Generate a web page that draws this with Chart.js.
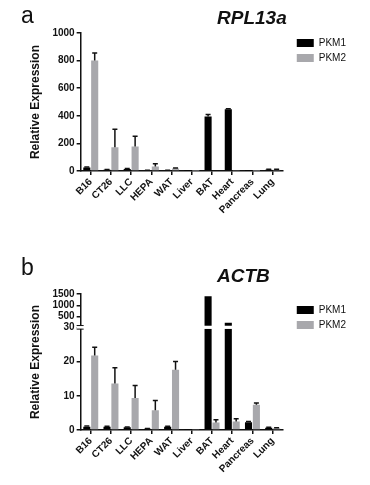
<!DOCTYPE html>
<html>
<head>
<meta charset="utf-8">
<script src="https://cdn.jsdelivr.net/npm/chart.js@4/dist/chart.umd.min.js"></script>
<style>
body { margin: 0; background: #fff; width: 370px; height: 485px; position: relative; overflow: hidden; font-family: "Liberation Sans", Arial, sans-serif; }
canvas { position: absolute; left: 0; }
.letter { position: absolute; font-size: 23px; color: #111; }
.gene { position: absolute; font-size: 19px; font-weight: bold; font-style: italic; color: #111; }
</style>
</head>
<body>
<canvas id="chartA" width="370" height="235" style="top:0"></canvas>
<canvas id="chartB" width="370" height="245" style="top:240px"></canvas>
<div class="letter" style="left:21px; top:2px;">a</div>
<div class="gene" style="left:217px; top:7px;">RPL13a</div>
<div class="letter" style="left:21px; top:254px;">b</div>
<div class="gene" style="left:217px; top:265px;">ACTB</div>
<script>
// 조직 (x축)
const tissues = ['B16', 'CT26', 'LLC', 'HEPA', 'WAT', 'Liver', 'BAT', 'Heart', 'Pancreas', 'Lung'];

// a: RPL13a 기준 상대 발현량
const rplPkm1 = [25, 10, 15, 5, 5, 2, 395, 447, 2, 10];
const rplPkm1Err = [5, 2, 4, 1, 1, 0, 15, 5, 0, 3];
const rplPkm2 = [800, 172, 178, 33, 18, 3, 5, 7, 2, 10];
const rplPkm2Err = [55, 130, 75, 20, 4, 0, 0, 0, 0, 3];
const rplTicks = [0, 200, 400, 600, 800, 1000];

// b: ACTB 기준 상대 발현량 (30에서 축 절단)
const actbPkm1 = [1.0, 1.0, 0.8, 0.4, 1.0, 0.2, 1400, 230, 2.3, 0.7];
const actbPkm1Err = [0.2, 0.1, 0.1, 0.05, 0.1, 0, 0, 0, 0.2, 0.1];
const actbPkm2 = [21.8, 13.6, 9.4, 5.8, 17.6, 0.3, 2.2, 2.5, 7.4, 0.5];
const actbPkm2Err = [2.4, 4.6, 3.6, 2.8, 2.4, 0, 0.8, 0.8, 0.5, 0.2];
const actbTicks = [0, 10, 20, 30, 500, 1000, 1500];
const breakAt = 30;

const black = '#000000';
const gray = '#a8a8ac';
const ink = '#111111';

Chart.defaults.font.family = '"Liberation Sans", Arial, sans-serif';
Chart.defaults.color = ink;

// 절단된 선형 축: breakAt 아래는 lowShare 만큼의 높이, 위는 나머지
class BrokenLinearScale extends Chart.LinearScale {
    toDecimal(value) {
        const at = this.options.breakAt;
        const low = this.options.lowShare;
        if (value <= at) return (value - this.min) / (at - this.min) * low;
        return low + (value - at) / (this.max - at) * (1 - low);
    }
    getPixelForValue(value) {
        if (value === null || value === undefined) return NaN;
        return this.getPixelForDecimal(this.toDecimal(value));
    }
    getValueForPixel(pixel) {
        const d = this.getDecimalForPixel(pixel);
        const at = this.options.breakAt;
        const low = this.options.lowShare;
        if (d <= low) return this.min + d / low * (at - this.min);
        return at + (d - low) / (1 - low) * (this.max - at);
    }
}
BrokenLinearScale.id = 'brokenLinear';
BrokenLinearScale.defaults = Chart.LinearScale.defaults;
Chart.register(BrokenLinearScale);

// 에러바 (위쪽만)
const errorBars = {
    id: 'errorBars',
    afterDatasetsDraw(chart) {
        const ctx = chart.ctx;
        ctx.save();
        ctx.strokeStyle = ink;
        ctx.lineWidth = 1.5;
        chart.data.datasets.forEach((ds, i) => {
            if (!ds.errors) return;
            const meta = chart.getDatasetMeta(i);
            const yScale = chart.scales[meta.yAxisID];
            ds.data.forEach((v, j) => {
                const e = ds.errors[j];
                if (v == null || !e) return;
                const el = meta.data[j];
                const yTop = yScale.getPixelForValue(v + e);
                ctx.beginPath();
                ctx.moveTo(el.x, el.y);
                ctx.lineTo(el.x, yTop);
                ctx.moveTo(el.x - 2.5, yTop);
                ctx.lineTo(el.x + 2.5, yTop);
                ctx.stroke();
            });
        });
        ctx.restore();
    }
};

// 축 절단 표시 (흰 틈 + = 모양)
const axisBreak = {
    id: 'axisBreak',
    afterDatasetsDraw(chart) {
        const ctx = chart.ctx;
        const area = chart.chartArea;
        const y = chart.scales.y.getPixelForValue(breakAt);
        ctx.save();
        ctx.fillStyle = '#ffffff';
        ctx.fillRect(area.left - 4, y - 1.6, area.right - area.left + 4, 3.2);
        ctx.strokeStyle = ink;
        ctx.lineWidth = 1;
        ctx.beginPath();
        ctx.moveTo(area.left - 4, y - 1.8);
        ctx.lineTo(area.left + 3, y - 1.8);
        ctx.moveTo(area.left - 4, y + 1.8);
        ctx.lineTo(area.left + 3, y + 1.8);
        ctx.stroke();
        ctx.restore();
    }
};

const tickFont = { size: 10, weight: 'bold' };

function xScale() {
    return {
        offset: true,
        grid: { display: true, drawOnChartArea: false, offset: false, tickLength: 4, color: ink, lineWidth: 1.5 },
        border: { display: true, color: ink, width: 1.5 },
        ticks: { autoSkip: false, maxRotation: 45, minRotation: 45, padding: 1, font: tickFont, color: ink }
    };
}

function yScale(tickValues, extra) {
    return Object.assign({
        position: 'left',
        grid: { display: true, drawOnChartArea: false, tickLength: 4, color: ink, lineWidth: 1.5 },
        border: { display: true, color: ink, width: 1.5 },
        ticks: { autoSkip: false, padding: 2, font: tickFont, color: ink, callback: v => String(v) },
        afterBuildTicks: scale => { scale.ticks = tickValues.map(v => ({ value: v })); },
        title: {
            display: true,
            text: 'Relative Expression',
            font: { size: 12, weight: 'bold' },
            color: ink,
            padding: { top: 0, bottom: 8 }
        }
    }, extra);
}

// 범례 앞 빈 간격용 축 (보이지 않음)
const spacerScale = {
    axis: 'y',
    position: 'right',
    display: false,
    afterFit: scale => { scale.width = 9; }
};

function legendOpts(topGap) {
    return {
        display: true,
        position: 'right',
        align: 'start',
        title: { display: topGap > 0, text: '', padding: 0, font: { size: topGap, lineHeight: 1 } },
        labels: {
            boxWidth: 17,
            boxHeight: 8,
            padding: 5,
            color: ink,
            font: { size: 10 }
        }
    };
}

// a 패널
new Chart(document.getElementById('chartA'), {
    type: 'bar',
    data: {
        labels: tissues,
        datasets: [
            { label: 'PKM1', data: rplPkm1, errors: rplPkm1Err, backgroundColor: black },
            { label: 'PKM2', data: rplPkm2, errors: rplPkm2Err, backgroundColor: gray }
        ]
    },
    options: {
        responsive: false,
        animation: false,
        categoryPercentage: 0.78,
        barPercentage: 0.9,
        layout: { padding: { top: 33, left: 28, right: 14, bottom: 18 } },
        plugins: {
            legend: legendOpts(0),
            tooltip: { enabled: false }
        },
        scales: {
            x: xScale(),
            y: yScale(rplTicks, { min: 0, max: 1000 }),
            gap: spacerScale
        }
    },
    plugins: [errorBars]
});

// b 패널 (y축 30에서 절단: 아래 0-30, 위 30-1500)
new Chart(document.getElementById('chartB'), {
    type: 'bar',
    data: {
        labels: tissues,
        datasets: [
            { label: 'PKM1', data: actbPkm1, errors: actbPkm1Err, backgroundColor: black },
            { label: 'PKM2', data: actbPkm2, errors: actbPkm2Err, backgroundColor: gray }
        ]
    },
    options: {
        responsive: false,
        animation: false,
        categoryPercentage: 0.78,
        barPercentage: 0.9,
        layout: { padding: { top: 54, left: 28, right: 14, bottom: 9 } },
        plugins: {
            legend: legendOpts(6),
            tooltip: { enabled: false }
        },
        scales: {
            x: xScale(),
            y: yScale(actbTicks, { type: 'brokenLinear', min: 0, max: 1500, breakAt: breakAt, lowShare: 0.755 }),
            gap: spacerScale
        }
    },
    plugins: [errorBars, axisBreak]
});
</script>
</body>
</html>
